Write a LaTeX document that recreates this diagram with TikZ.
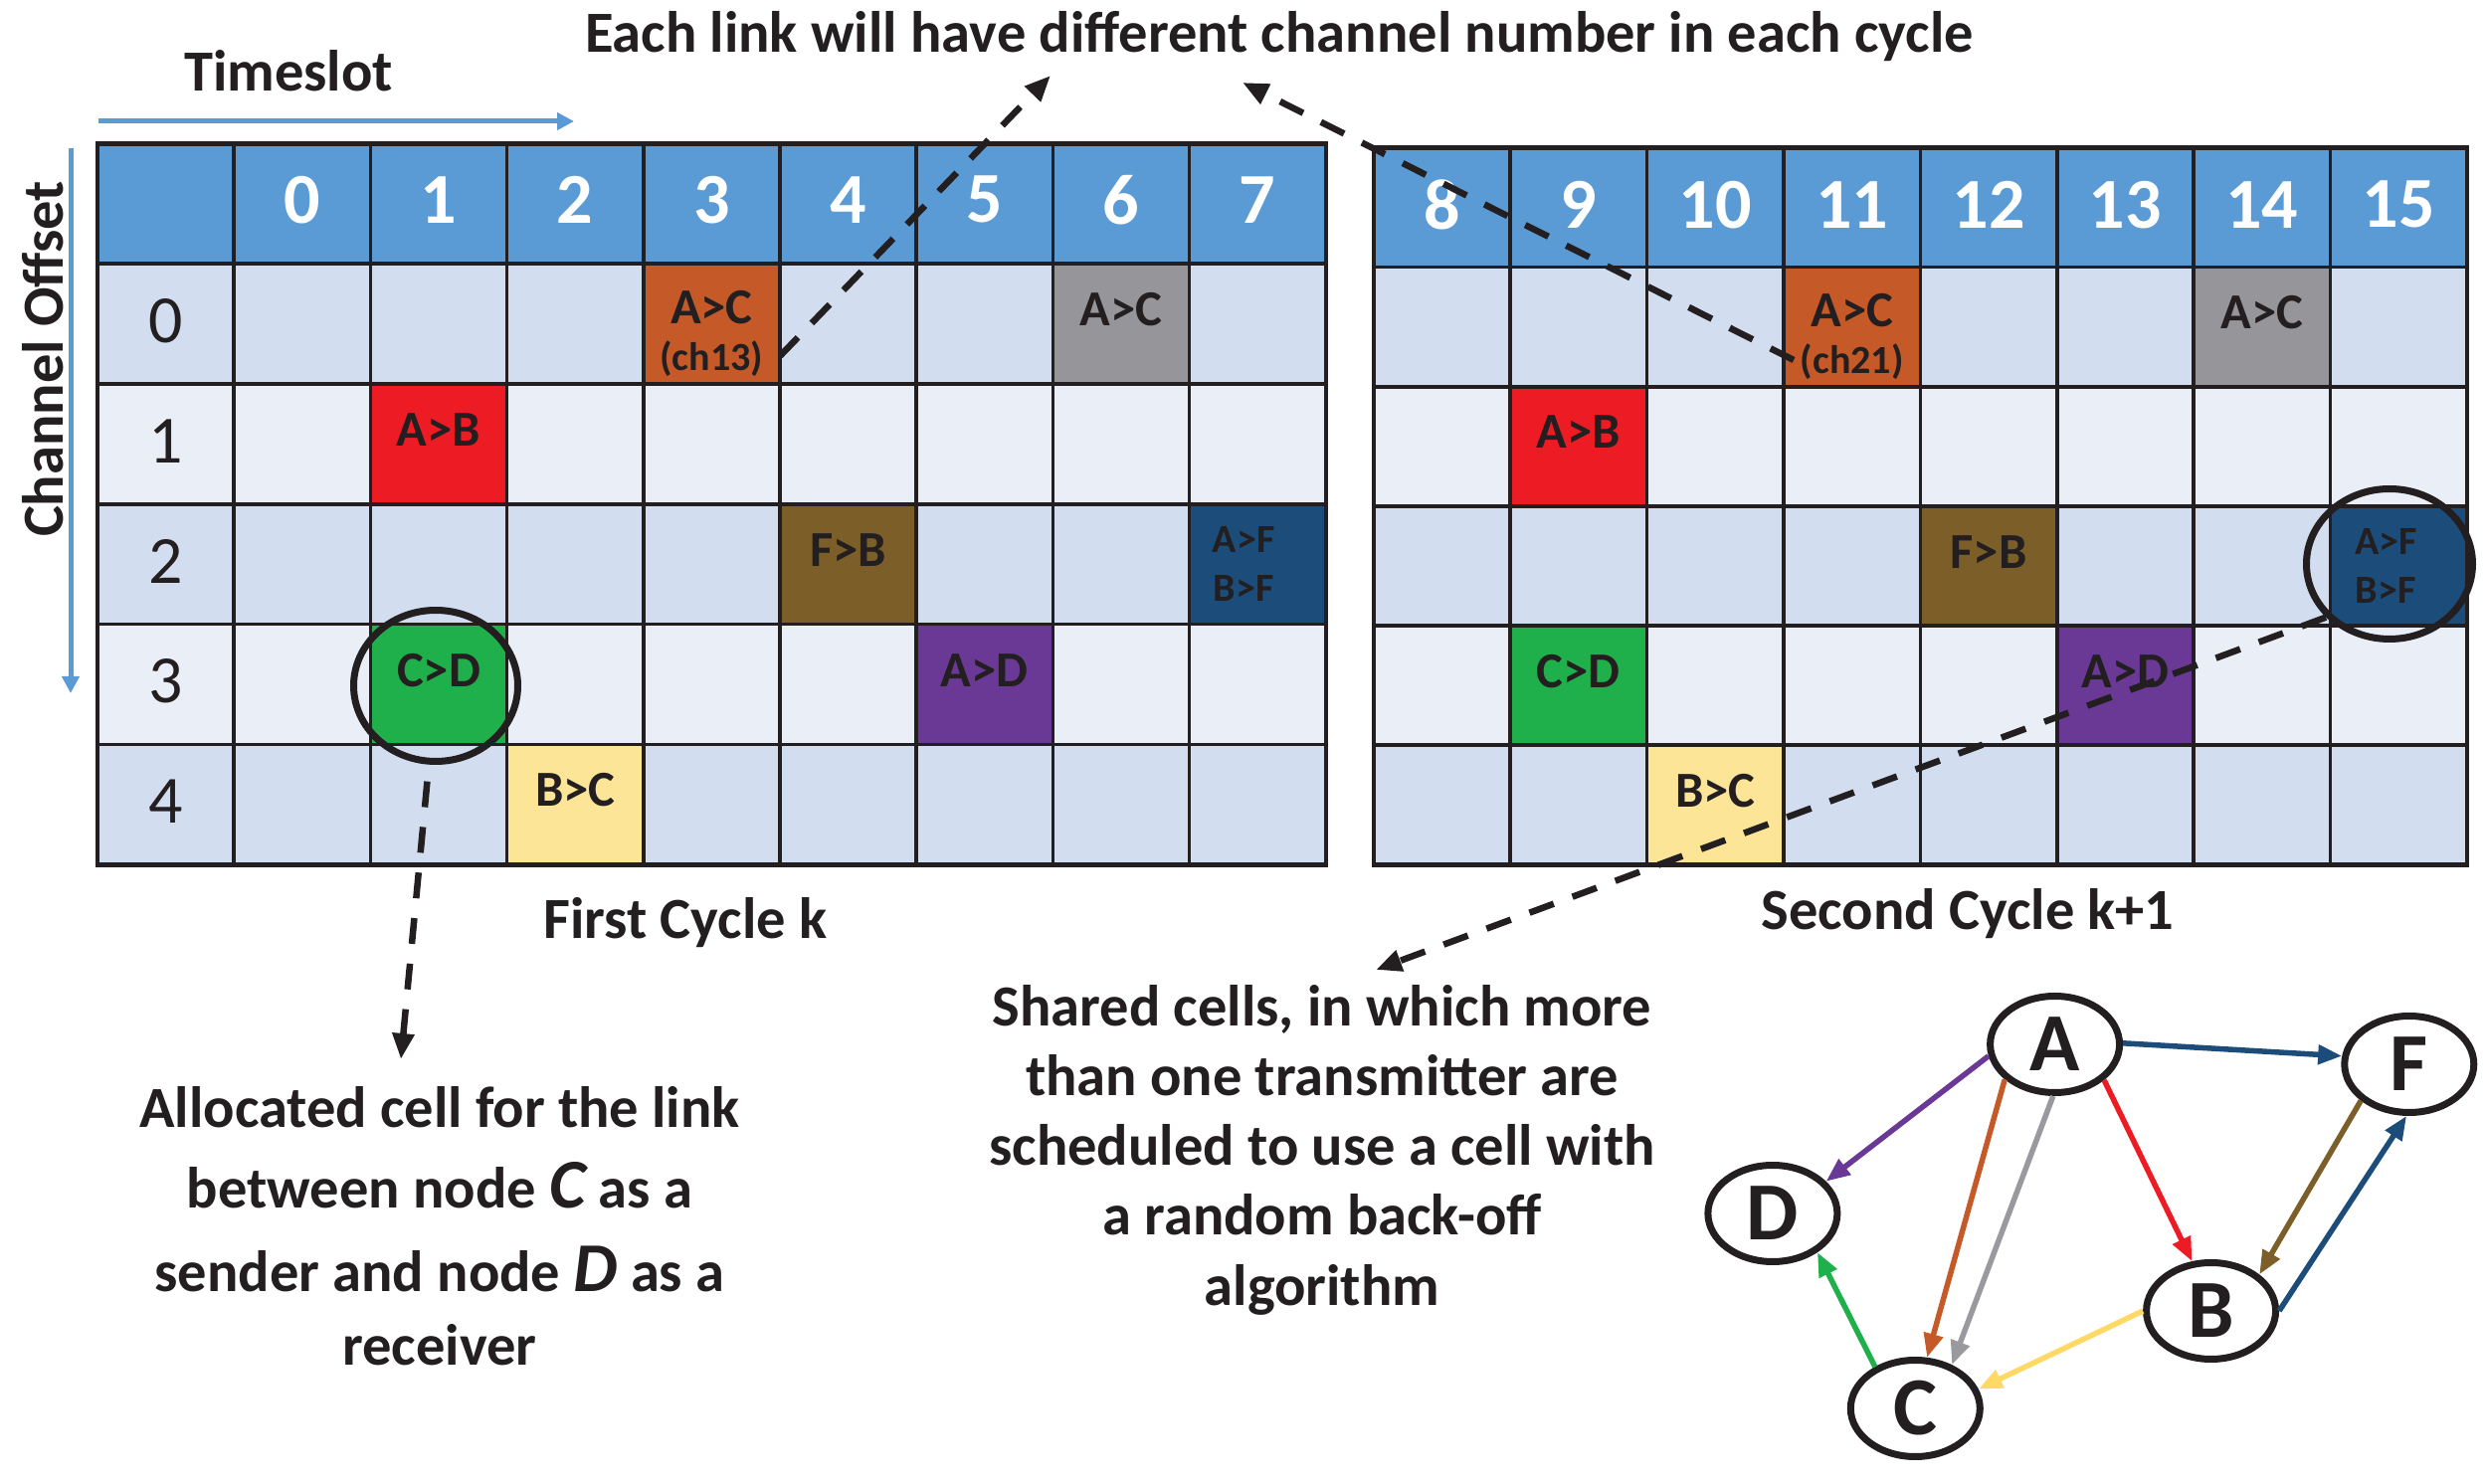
\documentclass[tikz,border=0pt]{standalone}
\usepackage{fontspec}
\setmainfont{Carlito}
\usetikzlibrary{arrows.meta,shapes.geometric,calc}

\definecolor{hdrblue}{RGB}{91,155,213}
\definecolor{bandA}{RGB}{210,222,239}
\definecolor{bandB}{RGB}{234,239,247}
\definecolor{cOrange}{RGB}{197,90,40}
\definecolor{cGray}{RGB}{150,150,154}
\definecolor{cRed}{RGB}{237,28,36}
\definecolor{cBrown}{RGB}{123,94,40}
\definecolor{cNavy}{RGB}{28,77,122}
\definecolor{cGreen}{RGB}{32,176,75}
\definecolor{cPurple}{RGB}{106,57,150}
\definecolor{cYellow}{RGB}{253,229,152}
\definecolor{aYellow}{RGB}{255,217,102}
\definecolor{aGray}{RGB}{153,153,158}
\definecolor{ink}{RGB}{35,31,32}

\tikzset{
 gridline/.style={line width=0.35mm, draw=ink},
 tframe/.style={line width=0.45mm, draw=ink},
 hdr/.style={text=white, font=\fontsize{20.5pt}{24pt}\selectfont\bfseries, inner sep=0},
 rowlab/.style={text=ink, font=\fontsize{19.3pt}{23pt}\selectfont, inner sep=0},
 lab/.style={text=ink, font=\fontsize{14.4pt}{17pt}\selectfont\bfseries, inner sep=0, anchor=base},
 slab/.style={text=ink, font=\fontsize{11.4pt}{14pt}\selectfont\bfseries, inner sep=0, anchor=base},
 txtbig/.style={text=ink, font=\fontsize{16.65pt}{20pt}\selectfont\bfseries, inner sep=0, anchor=base},
 gnode/.style={ellipse, draw=ink, line width=0.7mm, fill=white, minimum width=13mm, minimum height=9.7mm, inner sep=0, text=ink, font=\fontsize{23.6pt}{28pt}\selectfont\bfseries},
 hlring/.style={ellipse, draw=ink, line width=0.7mm, inner sep=0},
 garrow/.style={line width=0.55mm, -{Triangle[length=2.4mm, width=1.9mm]}},
 darrow/.style={draw=ink, line width=0.65mm, dash pattern=on 2.6mm off 2mm, -{Triangle[length=2.6mm, width=2.1mm]}},
 axarrow/.style={draw=hdrblue, line width=0.5mm, -{Triangle[length=1.7mm, width=1.7mm]}},
}
\newcommand\bigit[1]{{\fontsize{20pt}{20pt}\selectfont\itshape #1}}

\begin{document}
\begin{tikzpicture}[x=0.1mm,y=-0.1mm]
\useasboundingbox (0,0) rectangle (2499,1492);
\def\LX{98}\def\LY{144.4}\def\LW{137.2}\def\LH{120.83}
\def\RX{1380.8}\def\RY{148.6}\def\RW{137.4}\def\RH{120.13}

% ---------- left table ----------
\fill[hdrblue] (\LX,\LY) rectangle ({\LX+9*\LW},{\LY+\LH});
\foreach \r/\cc in {1/bandA,2/bandB,3/bandA,4/bandB,5/bandA}
  \fill[\cc] (\LX,{\LY+\r*\LH}) rectangle ({\LX+9*\LW},{\LY+(\r+1)*\LH});
\foreach \t/\r/\cc in {3/0/cOrange,6/0/cGray,1/1/cRed,4/2/cBrown,7/2/cNavy,1/3/cGreen,5/3/cPurple,2/4/cYellow}
  \fill[\cc] ({\LX+(\t+1)*\LW},{\LY+(\r+1)*\LH}) rectangle ++(\LW,\LH);
\foreach \i in {0,...,9} \draw[gridline] ({\LX+\i*\LW},\LY) -- ({\LX+\i*\LW},{\LY+6*\LH});
\foreach \j in {0,...,6} \draw[gridline] (\LX,{\LY+\j*\LH}) -- ({\LX+9*\LW},{\LY+\j*\LH});
\draw[tframe] (\LX,\LY) rectangle ({\LX+9*\LW},{\LY+6*\LH});
\foreach \i in {0,...,7} \node[hdr] at ({\LX+(\i+1.5)*\LW},{\LY+0.5*\LH-4}) {\i};
\foreach \i in {0,...,4} \node[rowlab] at ({\LX+0.5*\LW},{\LY+(\i+1.5)*\LH-3}) {\i};
\foreach \t/\r/\s in {6/0/A>C,1/1/A>B,4/2/F>B,1/3/C>D,5/3/A>D,2/4/B>C}
  \node[lab] at ({\LX+(\t+1.5)*\LW},{\LY+(\r+1.5)*\LH+2}) {\s};
\node[lab] at ({\LX+4.5*\LW},{\LY+1.5*\LH}) {A>C};
\node[slab] at ({\LX+4.5*\LW},{\LY+1.5*\LH+47}) {(ch13)};
\node[slab] at ({\LX+8.5*\LW-14},{\LY+3.5*\LH-11.5}) {A>F};
\node[slab] at ({\LX+8.5*\LW-14},{\LY+3.5*\LH+37.5}) {B>F};

% ---------- right table ----------
\fill[hdrblue] (\RX,\RY) rectangle ({\RX+8*\RW},{\RY+\RH});
\foreach \r/\cc in {1/bandA,2/bandB,3/bandA,4/bandB,5/bandA}
  \fill[\cc] (\RX,{\RY+\r*\RH}) rectangle ({\RX+8*\RW},{\RY+(\r+1)*\RH});
\foreach \t/\r/\cc in {3/0/cOrange,6/0/cGray,1/1/cRed,4/2/cBrown,7/2/cNavy,1/3/cGreen,5/3/cPurple,2/4/cYellow}
  \fill[\cc] ({\RX+\t*\RW},{\RY+(\r+1)*\RH}) rectangle ++(\RW,\RH);
\foreach \i in {0,...,8} \draw[gridline] ({\RX+\i*\RW},\RY) -- ({\RX+\i*\RW},{\RY+6*\RH});
\foreach \j in {0,...,6} \draw[gridline] (\RX,{\RY+\j*\RH}) -- ({\RX+8*\RW},{\RY+\j*\RH});
\draw[tframe] (\RX,\RY) rectangle ({\RX+8*\RW},{\RY+6*\RH});
\foreach \i in {8,...,15} \node[hdr] at ({\RX+(\i-7.5)*\RW},{\RY+0.5*\RH-3}) {\i};
\foreach \t/\r/\s in {6/0/A>C,1/1/A>B,4/2/F>B,1/3/C>D,5/3/A>D,2/4/B>C}
  \node[lab] at ({\RX+(\t+0.5)*\RW},{\RY+(\r+1.5)*\RH+2}) {\s};
\node[lab] at ({\RX+3.5*\RW},{\RY+1.5*\RH}) {A>C};
\node[slab] at ({\RX+3.5*\RW},{\RY+1.5*\RH+47}) {(ch21)};
\node[slab] at ({\RX+7.5*\RW-13},{\RY+3.5*\RH-11.5}) {A>F};
\node[slab] at ({\RX+7.5*\RW-13},{\RY+3.5*\RH+37.5}) {B>F};

% ---------- axes ----------
\coordinate (tsa) at (99,122); \coordinate (tsb) at (577,122);
\draw[axarrow] (tsa) -- (tsb);
\coordinate (coa) at (71,149); \coordinate (cob) at (71,697);
\draw[axarrow] (coa) -- (cob);
\node[txtbig] (timeslot) at (290,91.7) {Timeslot};
\node[txtbig, rotate=90] (choff) at (64,361) {Channel Offset};

% ---------- texts ----------
\node[txtbig] (toptext) at (1286,53) {Each link will have different channel number in each cycle};
\node[txtbig] (cyc1) at (689,944) {First Cycle k};
\node[txtbig] (cyc2) at (1978,935) {Second Cycle k+1};
\node[txtbig] (bl1) at (442,1134) {Allocated cell for the link};
\node[txtbig] (bl2) at (442,1215) {between node \bigit{C} as a};
\node[txtbig] (bl3) at (442,1299) {sender and node \bigit{D} as a};
\node[txtbig] (bl4) at (442,1373) {receiver};
\node[txtbig] (m1) at (1329,1031.7) {Shared cells, in which more};
\node[txtbig] (m2) at (1329,1101.7) {than one transmitter are};
\node[txtbig] (m3) at (1329,1171.7) {scheduled to use a cell with};
\node[txtbig] (m4) at (1329,1241.7) {a random back-off};
\node[txtbig] (m5) at (1329,1313) {algorithm};

% ---------- highlight rings and dashed arrows ----------
\node[hlring, minimum width=16.5mm, minimum height=15.2mm] (hlcd) at (438,689.5) {};
\node[hlring, minimum width=16.7mm, minimum height=15.1mm] (hlaf) at (2402,567) {};
\coordinate (s1) at (784,358); \coordinate (t1) at (1056,76);
\draw[darrow] (s1) -- (t1);
\coordinate (s2) at (1803,362); \coordinate (t2) at (1249,83);
\draw[darrow] (s2) -- (t2);
\coordinate (t3) at (1383,975);
\draw[darrow] (hlaf.220) -- (t3);
\coordinate (t4) at (403,1065);
\draw[darrow, shorten <=1.7mm] (hlcd.265) -- (t4);

% ---------- graph ----------
\node[gnode] (A) at (2065.6,1050) {A};
\node[gnode] (F) at (2421.8,1070) {F};
\node[gnode] (D) at (1781.9,1220) {D};
\node[gnode] (B) at (2222.6,1318) {B};
\node[gnode] (C) at (1925.3,1416) {C};
\draw[garrow, cNavy] (A.1) -- (F.173);
\draw[garrow, cPurple] (A.190) -- (D.31);
\draw[garrow, cOrange] (A.215) -- (C.77);
\draw[garrow, aGray] (A.268) -- (C.50);
\draw[garrow, cRed] (A.324) -- (B.111);
\draw[garrow, cBrown] (F.217) -- (B.37);
\draw[garrow, cNavy] (B.0) -- (F.267);
\draw[garrow, aYellow] (B.180) -- (C.17);
\draw[garrow, cGreen] (C.134) -- (D.319);
\end{tikzpicture}
\end{document}
